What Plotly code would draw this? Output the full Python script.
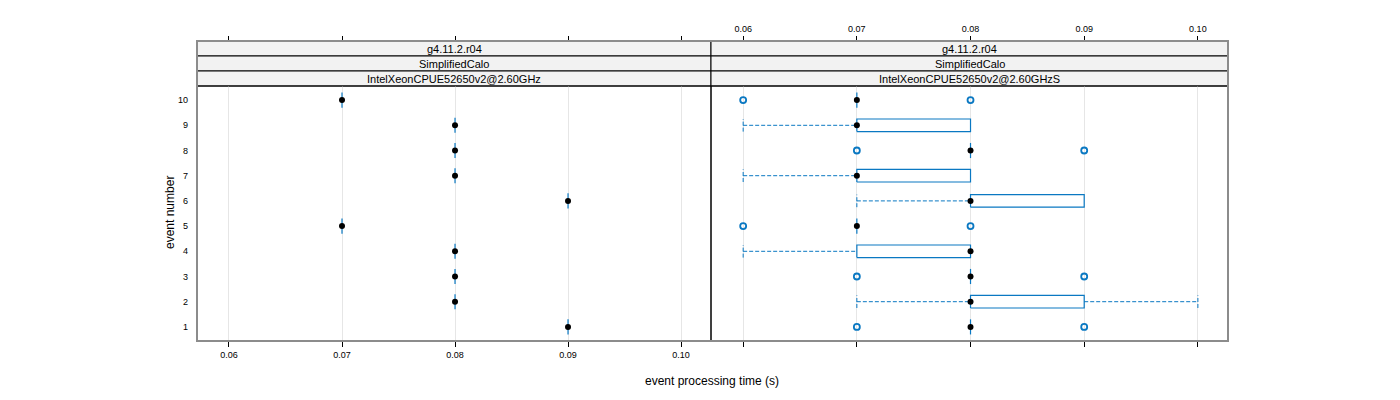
import plotly.graph_objects as go

# Event numbers and timings.
events = [1, 2, 3, 4, 5, 6, 7, 8, 9, 10]

# Left panel: one measurement per event.
left_vals = [0.09, 0.08, 0.08, 0.08, 0.07, 0.09, 0.08, 0.08, 0.08, 0.07]

# Right panel: box statistics per event.
lo_whisk = [0.08, 0.07, 0.08, 0.06, 0.07, 0.07, 0.06, 0.08, 0.06, 0.07]
q1 = [0.08, 0.08, 0.08, 0.07, 0.07, 0.08, 0.07, 0.08, 0.07, 0.07]
med = [0.08, 0.08, 0.08, 0.08, 0.07, 0.08, 0.07, 0.08, 0.07, 0.07]
q3 = [0.08, 0.09, 0.08, 0.08, 0.07, 0.09, 0.08, 0.08, 0.08, 0.07]
hi_whisk = [0.08, 0.10, 0.08, 0.08, 0.07, 0.09, 0.08, 0.08, 0.08, 0.07]
out_event = [1, 1, 3, 3, 5, 5, 8, 8, 10, 10]
out_val = [0.07, 0.09, 0.07, 0.09, 0.06, 0.08, 0.07, 0.09, 0.06, 0.08]

x_ticks = [0.06, 0.07, 0.08, 0.09, 0.10]
x_ticktext = ["0.06", "0.07", "0.08", "0.09", "0.10"]
strips_left = ["g4.11.2.r04", "SimplifiedCalo", "IntelXeonCPUE52650v2@2.60GHz"]
strips_right = ["g4.11.2.r04", "SimplifiedCalo", "IntelXeonCPUE52650v2@2.60GHzS"]

BLUE = "#0a78c2"
FONT = "Liberation Sans"
HALF = 0.25  # half box height (box.ratio = 1)


def box_traces(xa, lo, a, m, b, hi):
    bx, by, wx, wy = [], [], [], []
    for e, l, q_1, q_3, h in zip(events, lo, a, b, hi):
        if q_1 == q_3:
            bx += [q_1, q_1, None]
            by += [e - HALF - 0.05, e + HALF + 0.05, None]
        else:
            bx += [q_1, q_3, q_3, q_1, q_1, None]
            by += [e - HALF, e - HALF, e + HALF, e + HALF, e - HALF, None]
        if l < q_1:
            wx += [l, q_1, None, l, l, None]
            wy += [e, e, None, e - HALF, e + HALF, None]
        if h > q_3:
            wx += [q_3, h, None, h, h, None]
            wy += [e, e, None, e - HALF, e + HALF, None]
    traces = [
        go.Scatter(x=bx, y=by, xaxis=xa, yaxis="y", mode="lines",
                   line=dict(color=BLUE, width=1.2), hoverinfo="skip"),
        go.Scatter(x=m, y=events, xaxis=xa, yaxis="y", mode="markers",
                   marker=dict(color="black", size=6), hoverinfo="skip"),
    ]
    if wx:
        traces.insert(1, go.Scatter(x=wx, y=wy, xaxis=xa, yaxis="y", mode="lines",
                                    line=dict(color=BLUE, width=1, dash="4px,2px"),
                                    hoverinfo="skip"))
    return traces


fig = go.Figure()
for t in box_traces("x", left_vals, left_vals, left_vals, left_vals, left_vals):
    fig.add_trace(t)
for t in box_traces("x2", lo_whisk, q1, med, q3, hi_whisk):
    fig.add_trace(t)
fig.add_trace(go.Scatter(x=out_val, y=out_event, xaxis="x2", yaxis="y", mode="markers",
                         marker=dict(symbol="circle-open", color=BLUE, size=6,
                                     line=dict(width=1.8)),
                         hoverinfo="skip"))
# dummy traces so the top axes are drawn
fig.add_trace(go.Scatter(x=x_ticks, y=[None] * 5, xaxis="x3", yaxis="y", hoverinfo="skip"))
fig.add_trace(go.Scatter(x=x_ticks, y=[None] * 5, xaxis="x4", yaxis="y", hoverinfo="skip"))

xr = [0.05717, 0.10265]
split = 514 / 1031
ytop = 0.85
common_x = dict(range=xr, tickvals=x_ticks, ticktext=x_ticktext, ticks="outside",
                ticklen=5, tickcolor="black", tickfont=dict(size=9, color="black"),
                showline=False, zeroline=False)
# page body adds 8px, so margins are shifted to land the panels where the reference has them
fig.update_layout(
    width=1400, height=400,
    margin=dict(l=189, r=180, t=33, b=67),
    plot_bgcolor="white", paper_bgcolor="white",
    showlegend=False,
    font=dict(family=FONT, color="black"),
    xaxis=dict(domain=[0, split], anchor="y", showgrid=True, gridcolor="#e6e6e6",
               **common_x),
    xaxis2=dict(domain=[split, 1], anchor="y", showgrid=True, gridcolor="#e6e6e6",
                showticklabels=False, **common_x),
    xaxis3=dict(overlaying="x", side="top", anchor="free", position=1,
                showgrid=False, showticklabels=False, **common_x),
    xaxis4=dict(overlaying="x2", side="top", anchor="free", position=1,
                showgrid=False, **common_x),
    yaxis=dict(domain=[0, ytop], range=[0.44, 10.56], tickvals=events,
               ticks="", ticklabelstandoff=8, showgrid=False, zeroline=False,
               tickfont=dict(size=9, color="black")),
)

shapes = []
strip_h = (1 - ytop) / 3
for xref, labels in (("x domain", strips_left), ("x2 domain", strips_right)):
    for i, lab in enumerate(labels):
        y1 = 1 - i * strip_h
        y0 = y1 - strip_h
        shapes.append(dict(type="rect", xref=xref, yref="paper", x0=0, x1=1, y0=y0, y1=y1,
                           fillcolor="#f2f2f2", line=dict(color="black", width=1),
                           layer="below"))
        fig.add_annotation(text=lab, xref=xref, yref="paper", x=0.5, y=(y0 + y1) / 2,
                           showarrow=False, font=dict(size=11, color="black"),
                           yanchor="middle")
    shapes.append(dict(type="rect", xref=xref, yref="y domain", x0=0, x1=1, y0=0, y1=1,
                       line=dict(color="black", width=1)))
# outer frame (rendered greyish in the reference)
shapes.append(dict(type="rect", xref="paper", yref="paper", x0=0, x1=1, y0=0, y1=1,
                   line=dict(color="#8c8c8c", width=2)))
fig.update_layout(shapes=shapes)

fig.add_annotation(text="event number", xref="paper", yref="paper",
                   x=(170 - 197) / 1031, y=(341 - 213) / 300, textangle=-90,
                   showarrow=False, font=dict(size=12), xanchor="center", yanchor="middle")
fig.add_annotation(text="event processing time (s)", xref="paper", yref="paper",
                   x=(712 - 197) / 1031, y=(341 - 381) / 300,
                   showarrow=False, font=dict(size=12), xanchor="center", yanchor="middle")

fig.write_html("out.html")
